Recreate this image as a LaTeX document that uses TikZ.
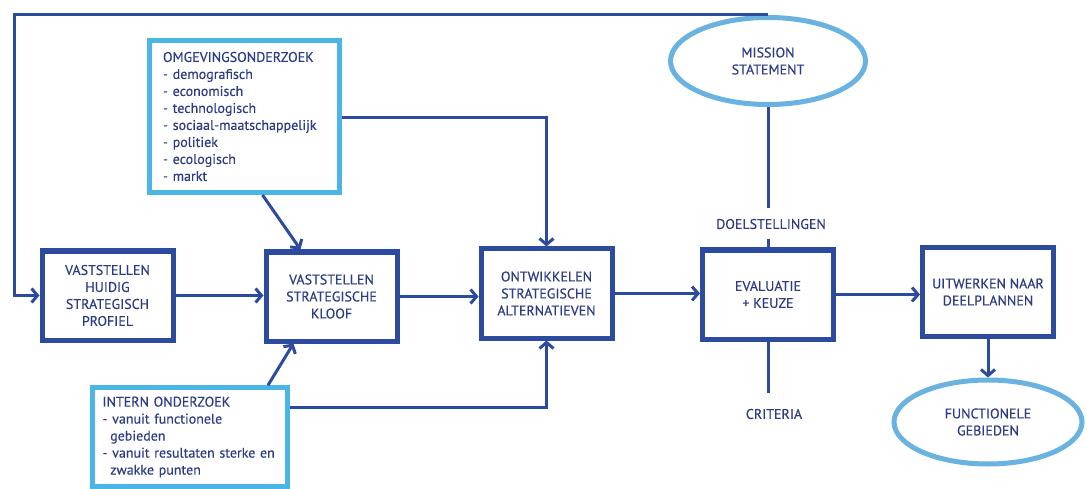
\documentclass[tikz,border=0pt]{standalone}
\usepackage{fontspec}
\setmainfont{PT Sans}[FakeBold=0.35]
\usetikzlibrary{arrows.meta,shapes.geometric,calc}
\definecolor{navy}{HTML}{2C4A9E}
\definecolor{ink}{HTML}{2E3C85}
\definecolor{sky}{HTML}{4BB6E6}
\definecolor{skyring}{HTML}{6AB2E0}
\begin{document}
\begin{tikzpicture}[x=1pt,y=-1pt,
  txt/.style={text=ink,font=\fontsize{14}{17}\selectfont},
  stepbox/.style={txt,draw=navy,line width=5pt,minimum width=131pt,minimum height=89pt,align=center,inner sep=0pt},
  infobox/.style={txt,draw=sky,line width=5pt,align=left,inner sep=0pt},
  ring/.style={txt,ellipse,draw=skyring,line width=5pt,align=center,inner sep=0pt},
  conn/.style={draw=navy,line width=3pt},
  arr/.style={conn,-{Straight Barb[length=6pt,width=14pt]}},
  tag/.style={txt,inner sep=0pt}]
\useasboundingbox (0,0) rectangle (1087,489);

% process steps
\node[stepbox] (huidig) at (107.5,295.5) {VASTSTELLEN\\HUIDIG\\STRATEGISCH\\PROFIEL};
\node[stepbox] (kloof) at (331.5,296.5) {VASTSTELLEN\\STRATEGISCHE\\KLOOF};
\node[stepbox] (alt) at (546.5,293.5) {ONTWIKKELEN\\STRATEGISCHE\\ALTERNATIEVEN};
\node[stepbox] (eval) at (768,294.5) {EVALUATIE\\+ KEUZE};
\node[stepbox] (uitw) at (988,292) {UITWERKEN NAAR\\DEELPLANNEN};

% research inputs
\node[infobox,minimum width=190pt,minimum height=152pt,text width=163pt] (omg) at (244.5,116.5)
  {OMGEVINGSONDERZOEK\\- demografisch\\- economisch\\- technologisch\\- sociaal-maatschappelijk\\- politiek\\- ecologisch\\- markt};
\node[infobox,minimum width=195pt,minimum height=98.5pt,text width=175pt] (intern) at (190,437)
  {INTERN ONDERZOEK\\- vanuit functionele\\\hspace*{0.55em}gebieden\\- vanuit resultaten sterke en\\\hspace*{0.55em}zwakke punten};

% ellipses
\node[ring,minimum width=195pt,minimum height=87pt] (mission) at (768,61) {MISSION\\STATEMENT};
\node[ring,minimum width=188pt,minimum height=84pt] (func) at (988,422) {FUNCTIONELE\\GEBIEDEN};

% labels on the evaluation axis
\node[tag] (doel) at (771,224) {DOELSTELLINGEN};
\node[tag] (crit) at (774,414) {CRITERIA};

% feedback loop from the mission statement
\coordinate (loopx) at (14,0);
\draw[arr] (mission.north) -- (mission.north -| loopx) |- (huidig.west);

% main flow
\draw[arr] (huidig.east) -- (huidig.east -| kloof.west);
\draw[arr] (kloof.east) -- (kloof.east -| alt.west);
\draw[arr] (alt.east) -- (alt.east -| eval.west);
\draw[arr] (eval.east) -- (eval.east -| uitw.west);
\draw[arr] (uitw.south) -- (func.north);

% inputs into the steps
\draw[arr] ($(omg.south)+(18,0)$) -- ($(kloof.north)+(-31,0)$);
\draw[arr] ($(omg.east)+(0,1.5)$) -| (alt.north);
\draw[arr] ($(intern.north)+(78,0)$) -- ($(kloof.south)+(-38,0)$);
\draw[arr] ($(intern.north east)+(0,22)$) -| (alt.south);

% objectives and criteria
\draw[conn,shorten >=11pt] (mission.south) -- (mission.south |- doel.north);
\draw[conn,shorten <=9.5pt] (eval.north |- doel.south) -- (eval.north);
\draw[conn,shorten >=16pt] (eval.south) -- (eval.south |- crit.north);
\end{tikzpicture}
\end{document}
